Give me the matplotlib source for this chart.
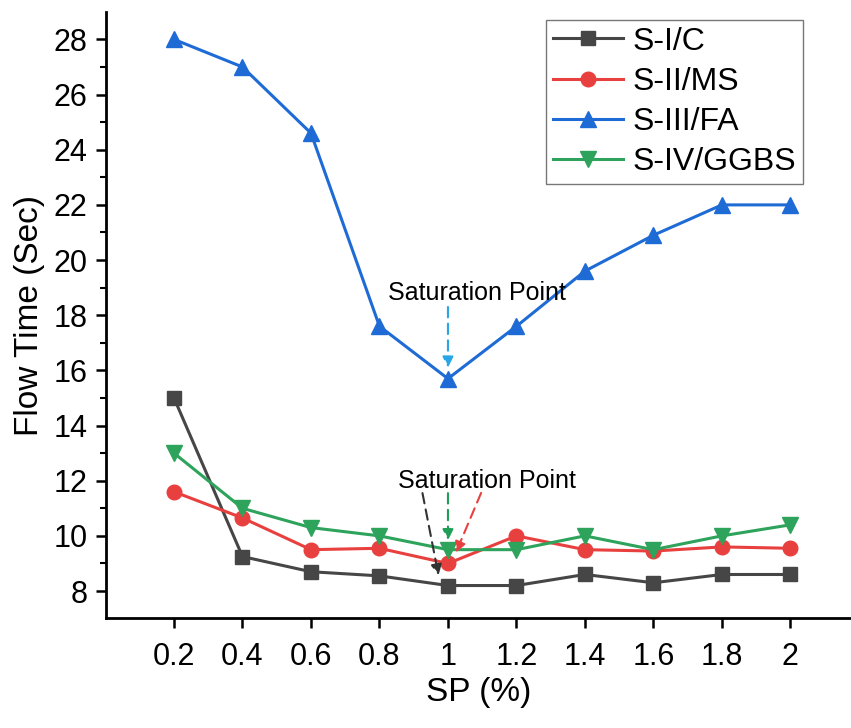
import matplotlib
matplotlib.use("Agg")
import matplotlib.pyplot as plt
from matplotlib.ticker import MultipleLocator

plt.rcParams['font.family'] = ['Liberation Sans', 'DejaVu Sans']

sp = [0.2, 0.4, 0.6, 0.8, 1.0, 1.2, 1.4, 1.6, 1.8, 2.0]
s1_c = [15.0, 9.25, 8.7, 8.55, 8.2, 8.2, 8.6, 8.3, 8.6, 8.6]
s2_ms = [11.6, 10.65, 9.5, 9.55, 9.0, 10.0, 9.5, 9.45, 9.6, 9.55]
s3_fa = [28.0, 27.0, 24.6, 17.6, 15.7, 17.6, 19.6, 20.9, 22.0, 22.0]
s4_ggbs = [13.0, 11.0, 10.3, 10.0, 9.5, 9.5, 10.0, 9.5, 10.0, 10.4]
xtick_labels = ['0.2', '0.4', '0.6', '0.8', '1', '1.2', '1.4', '1.6', '1.8', '2']

fig = plt.figure(figsize=(8.51, 7.28), dpi=100)
ax = fig.add_axes([0.124, 0.151, 0.876, 0.832])

ax.plot(sp, s1_c, color='#464646', marker='s', ms=9.5, lw=2.2, label='S-I/C')
ax.plot(sp, s2_ms, color='#e8403e', marker='o', ms=10.5, lw=2.2, label='S-II/MS')
ax.plot(sp, s3_fa, color='#1f6bd6', marker='^', ms=11, lw=2.2, label='S-III/FA')
ax.plot(sp, s4_ggbs, color='#2ea35c', marker='v', ms=11, lw=2.2, label='S-IV/GGBS')

ax.set_xlim(0, 2.177)
ax.set_ylim(7.02, 28.98)
ax.set_xticks(sp)
ax.set_xticklabels(xtick_labels)
ax.yaxis.set_major_locator(MultipleLocator(2))
ax.yaxis.set_minor_locator(MultipleLocator(1))
ax.tick_params(axis='both', which='major', labelsize=22, width=1.8, length=7, direction='out')
ax.tick_params(axis='y', which='minor', width=1.5, length=4, direction='out')
ax.tick_params(axis='x', pad=10)
ax.tick_params(axis='y', pad=6)
for s in ['top', 'right']:
    ax.spines[s].set_visible(False)
for s in ['left', 'bottom']:
    ax.spines[s].set_linewidth(2)

ax.set_xlabel('SP (%)', fontsize=24, labelpad=4)
ax.set_ylabel('Flow Time (Sec)', fontsize=24, labelpad=6)

leg = ax.legend(loc='upper right', bbox_to_anchor=(0.935, 0.987), fontsize=23,
                fancybox=False, edgecolor='#555555', handlelength=2.2,
                borderpad=0.2, labelspacing=0.32, handletextpad=0.3,
                borderaxespad=0)
leg.get_frame().set_linewidth(1)

# upper saturation point
ax.text(1.085, 18.8, 'Saturation Point', fontsize=18, ha='center', va='center')
ax.annotate('', xy=(1.0, 16.0), xytext=(1.0, 18.4),
            arrowprops=dict(arrowstyle='-|>', color='#2aa5e6', lw=1.5, ls=(0, (5, 3)), mutation_scale=16))

# lower saturation point
ax.text(1.114, 11.98, 'Saturation Point', fontsize=18, ha='center', va='center')
ax.annotate('', xy=(0.974, 8.47), xytext=(0.924, 11.65),
            arrowprops=dict(arrowstyle='-|>', color='#333333', lw=1.5, ls=(0, (5, 3)), mutation_scale=16))
ax.annotate('', xy=(1.0, 9.74), xytext=(1.0, 11.65),
            arrowprops=dict(arrowstyle='-|>', color='#1e9e57', lw=1.5, ls=(0, (5, 3)), mutation_scale=16))
ax.annotate('', xy=(1.02, 9.3), xytext=(1.10, 11.65),
            arrowprops=dict(arrowstyle='-|>', color='#e8403e', lw=1.5, ls=(0, (5, 3)), mutation_scale=16))

fig.savefig('out.png', dpi=100)
